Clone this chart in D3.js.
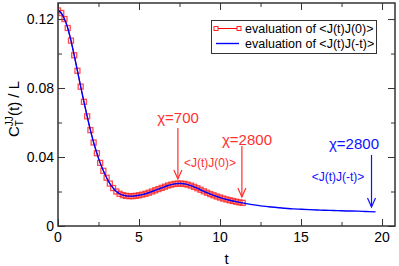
<!DOCTYPE html>
<html>
<head>
<meta charset="utf-8">
<script src="https://cdn.jsdelivr.net/npm/d3@7"></script>
<style>
  body { margin: 0; background: #fff; }
  text { font-family: "Liberation Sans", Arial, sans-serif; }
</style>
</head>
<body>
<div id="chart"></div>
<script>
// red series <J(t)J(0)>, sampled every 0.2 in t
var tRed = [0, 0.2, 0.4, 0.6, 0.8, 1.0, 1.2, 1.4, 1.6, 1.8, 2.0, 2.2, 2.4, 2.6, 2.8, 3.0,
            3.2, 3.4, 3.6, 3.8, 4.0, 4.2, 4.4, 4.6, 4.8, 5.0, 5.2, 5.4, 5.6, 5.8, 6.0,
            6.2, 6.4, 6.6, 6.8, 7.0, 7.2, 7.4, 7.6, 7.8, 8.0, 8.2, 8.4, 8.6, 8.8, 9.0,
            9.2, 9.4, 9.6, 9.8, 10.0, 10.2, 10.4, 10.6, 10.8, 11.0, 11.2, 11.4];
var cRed = [0.1250, 0.1235, 0.1200, 0.1148, 0.1075, 0.0990, 0.0900, 0.0808, 0.0720, 0.0636,
            0.0556, 0.0484, 0.0422, 0.0366, 0.0320, 0.0280, 0.0246, 0.0220, 0.0200, 0.0187,
            0.0179, 0.0175, 0.0173, 0.0173, 0.0175, 0.0178, 0.0182, 0.0187, 0.0193, 0.0200,
            0.0207, 0.0214, 0.0221, 0.0228, 0.0235, 0.0240, 0.0244, 0.0246, 0.0246, 0.0244,
            0.0240, 0.0234, 0.0227, 0.0219, 0.0210, 0.0201, 0.0193, 0.0185, 0.0178, 0.0171,
            0.0165, 0.0159, 0.0154, 0.0149, 0.0145, 0.0141, 0.0137, 0.0134];
// blue series <J(t)J(-t)>: same as red up to 11.4, then the tail
var tTail = [11.6, 12.0, 12.5, 13.0, 13.5, 14.0, 14.5, 15.0, 15.5, 16.0, 16.5, 17.0, 17.5, 18.0, 18.5, 19.0, 19.6];
var cTail = [0.0130, 0.0124, 0.0117, 0.0112, 0.0107, 0.0103, 0.0099, 0.0097, 0.0095, 0.0093,
             0.0091, 0.0090, 0.0088, 0.0087, 0.0086, 0.0084, 0.0082];

var xTicks = [0, 5, 10, 15, 20];
var yTicks = [0, 0.04, 0.08, 0.12];
var legendLabels = ['evaluation of <J(t)J(0)>', 'evaluation of <J(t)J(-t)>'];

var W = 399, H = 266;
var margin = {left: 58, right: 4, top: 3, bottom: 40};

var svg = d3.select('#chart').append('svg')
    .attr('width', W)
    .attr('height', H);

var x = d3.scaleLinear().domain([0, 20.8]).range([margin.left, W - margin.right]);
var y = d3.scaleLinear().domain([0, 0.1293]).range([H - margin.bottom, margin.top]);

var red = tRed.map(function(t, i) {return [t, cRed[i]];});
var blue = red.concat(tTail.map(function(t, i) {return [t, cTail[i]];}));

var frame = '#333';

// ticks, all inward, mirrored on top and right
function tickMarks(axisGen, transform, major, minor) {
    var g = svg.append('g').attr('transform', transform);
    g.call(axisGen.tickValues(minor).tickSize(-4).tickFormat(''));
    g.selectAll('.domain').remove();
    var g2 = svg.append('g').attr('transform', transform);
    g2.call(axisGen.tickValues(major).tickSize(-7).tickFormat(''));
    g2.selectAll('.domain').remove();
    svg.selectAll('.tick line').attr('stroke', frame).attr('stroke-width', 1);
}
var xMinor = [2.5, 7.5, 12.5, 17.5];
var yMinor = [0.02, 0.06, 0.1];
tickMarks(d3.axisBottom(x), 'translate(0,' + y(0) + ')', xTicks, xMinor);
tickMarks(d3.axisTop(x), 'translate(0,' + y.range()[1] + ')', xTicks, xMinor);
tickMarks(d3.axisLeft(y), 'translate(' + x(0) + ',0)', yTicks, yMinor);
tickMarks(d3.axisRight(y), 'translate(' + x.range()[1] + ',0)', yTicks, yMinor);

// tick labels
svg.selectAll('.xl').data(xTicks).enter().append('text')
    .attr('x', function(d) {return x(d);})
    .attr('y', y(0) + 16)
    .attr('text-anchor', 'middle')
    .style('font-size', '14px')
    .text(function(d) {return d;});
svg.selectAll('.yl').data(yTicks).enter().append('text')
    .attr('x', x(0) - 4)
    .attr('y', function(d) {return y(d) + 5;})
    .attr('text-anchor', 'end')
    .style('font-size', '14px')
    .text(function(d) {return d === 0 ? '0' : d3.format('.2f')(d);});

// axis titles
svg.append('text')
    .attr('x', (x.range()[0] + x.range()[1]) / 2)
    .attr('y', H - 2)
    .attr('text-anchor', 'middle')
    .style('font-size', '15px')
    .text('t');

var yt = svg.append('text')
    .attr('transform', 'translate(19,' + 109 + ') rotate(-90)')
    .attr('text-anchor', 'middle')
    .style('font-size', '15px');
yt.append('tspan').text('C');
yt.append('tspan').attr('dy', -6).style('font-size', '10px').text('JJ');
yt.append('tspan').attr('dx', -10).attr('dy', 10).style('font-size', '10px').text('T');
yt.append('tspan').attr('dx', 4).attr('dy', -4).text('(t) / L');

// clip to the frame
svg.append('clipPath').attr('id', 'clip').append('rect')
    .attr('x', x.range()[0]).attr('y', y.range()[1])
    .attr('width', x.range()[1] - x.range()[0])
    .attr('height', y.range()[0] - y.range()[1]);

var line = d3.line()
    .x(function(d) {return x(d[0]);})
    .y(function(d) {return y(d[1]);})
    .curve(d3.curveMonotoneX);

var plot = svg.append('g').attr('clip-path', 'url(#clip)');

plot.append('path')
    .datum(red)
    .attr('d', line)
    .attr('fill', 'none')
    .attr('stroke', '#ff0000')
    .attr('stroke-width', 1);

plot.selectAll('.sq').data(red).enter().append('rect')
    .attr('x', function(d) {return x(d[0]) - 2.5;})
    .attr('y', function(d) {return y(d[1]) - 2.5;})
    .attr('width', 5)
    .attr('height', 5)
    .attr('fill', 'none')
    .attr('stroke', '#ff2020')
    .attr('stroke-opacity', 0.8)
    .attr('stroke-width', 1.3);

plot.append('path')
    .datum(blue)
    .attr('d', line)
    .attr('fill', 'none')
    .attr('stroke', '#0000ff')
    .attr('stroke-width', 1.4);

// frame
svg.append('rect')
    .attr('x', x.range()[0]).attr('y', y.range()[1])
    .attr('width', x.range()[1] - x.range()[0])
    .attr('height', y.range()[0] - y.range()[1])
    .attr('fill', 'none')
    .attr('stroke', frame)
    .attr('stroke-width', 1.5);

// annotations
function arrow(xv, y1, y2, color) {
    var ax = x(xv);
    svg.append('line')
        .attr('x1', ax).attr('x2', ax).attr('y1', y1).attr('y2', y2)
        .attr('stroke', color).attr('stroke-width', 1.2);
    svg.append('path')
        .attr('d', 'M' + (ax - 4) + ',' + (y2 - 9) + 'L' + ax + ',' + y2 + 'L' + (ax + 4) + ',' + (y2 - 9))
        .attr('fill', 'none').attr('stroke', color).attr('stroke-width', 1.2);
}
function label(px, py, txt, color, size) {
    svg.append('text')
        .attr('x', px).attr('y', py)
        .attr('text-anchor', 'middle')
        .attr('fill', color)
        .style('font-size', size + 'px')
        .text(txt);
}
var redC = '#ff3030', blueC = '#1010ff';
label(178, 123, '\u03c7=700', redC, 15);
arrow(7.4, 128, 179, redC);
label(210, 167, '<J(t)J(0)>', redC, 12);
label(247, 145, '\u03c7=2800', redC, 15);
arrow(11.35, 146, 197, redC);
label(354, 149, '\u03c7=2800', blueC, 15);
arrow(19.35, 155, 207, blueC);
label(338, 181, '<J(t)J(-t)>', blueC, 12);

// legend
var lg = svg.append('g');
lg.append('rect')
    .attr('x', 211.5).attr('y', 20.5).attr('width', 165).attr('height', 33)
    .attr('fill', '#fff').attr('stroke', frame).attr('stroke-width', 1);
lg.append('line')
    .attr('x1', 216).attr('x2', 239).attr('y1', 28.5).attr('y2', 28.5)
    .attr('stroke', '#ff0000').attr('stroke-width', 1);
[216, 239].forEach(function(px) {
    lg.append('rect')
        .attr('x', px - 2).attr('y', 26.5).attr('width', 4).attr('height', 4)
        .attr('fill', '#fff').attr('stroke', '#ff2020').attr('stroke-width', 1);
});
lg.append('line')
    .attr('x1', 216).attr('x2', 239).attr('y1', 43.5).attr('y2', 43.5)
    .attr('stroke', '#0000ff').attr('stroke-width', 1.4);
lg.selectAll('.lt').data(legendLabels).enter().append('text')
    .attr('x', 245)
    .attr('y', function(d, i) {return 33 + i * 15;})
    .style('font-size', '12.5px')
    .text(function(d) {return d;});
</script>
</body>
</html>
